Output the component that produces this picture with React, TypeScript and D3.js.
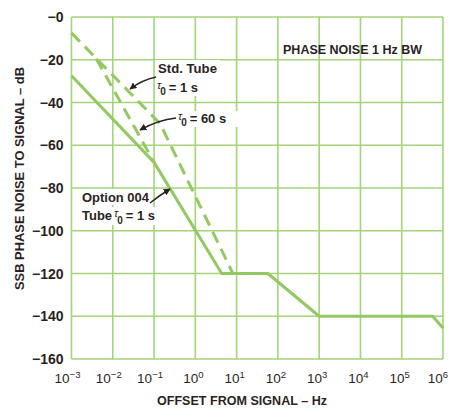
import React from "react";
import * as d3 from "d3";

// ---- data ----
const xTickExps = [-3, -2, -1, 0, 1, 2, 3, 4, 5, 6];
const yTicks = [0, -20, -40, -60, -80, -100, -120, -140, -160];

// Option 004 tube (solid), continues as common floor
const solidFreq = [1e-3, 1e-1, 10 ** 0.64, 57, 1e3, 10 ** 5.75, 1e6];
const solidDb = [-27.5, -68, -120, -120, -140, -140, -145.5];

// Std. Tube tau0 = 1 s (dashed)
const stdFreq = [1e-3, 10 ** -0.85, 10 ** 0.91];
const stdDb = [-7.5, -50, -120];

// tau0 = 60 s (dashed)
const t60Freq = [10 ** -2.4, 1e-1];
const t60Db = [-19.5, -68];

const W = 449;
const H = 409;
const M = { left: 71.5, right: 443, top: 17, bottom: 359 };

const GRID = "#a3d477";
const CURVE = "#93c862";
const TEXT = "#2b1f24";
const FONT = "'Liberation Sans', Arial, sans-serif";

function Tau({ x, y, rest, restLen }: { x: number; y: number; rest: string; restLen?: number }) {
  return (
    <text x={x} y={y} fill={TEXT}>
      <tspan fontSize={11} fontStyle="italic" dy={-3}>τ</tspan>
      <tspan fontSize={10} fontWeight="bold" dy={6.5} dx={-1}>0</tspan>
      <tspan fontSize={13} fontWeight="bold" dy={-3.5} dx={3}>{rest}</tspan>
    </text>
  );
}

export default function App() {
  const x = d3.scaleLog().domain([1e-3, 1e6]).range([M.left, M.right]);
  const y = d3.scaleLinear().domain([-160, 0]).range([M.bottom, M.top]);
  const line = d3
    .line<[number, number]>()
    .x((d) => x(d[0]))
    .y((d) => y(d[1]));

  const solid = solidFreq.map((f, i) => [f, solidDb[i]] as [number, number]);
  const std = stdFreq.map((f, i) => [f, stdDb[i]] as [number, number]);
  const t60 = t60Freq.map((f, i) => [f, t60Db[i]] as [number, number]);

  const tx = (e: number) => x(10 ** e);

  return (
    <svg
      width={W}
      height={H}
      style={{ position: "absolute", left: 0, top: 0, background: "#fff" }}
      fontFamily={FONT}
    >
      <defs>
        <marker
          id="ah"
          viewBox="0 0 10 10"
          refX="9"
          refY="5"
          markerWidth="7"
          markerHeight="7"
          orient="auto"
          markerUnits="userSpaceOnUse"
        >
          <path d="M0,0 L10,5 L0,10 z" fill={TEXT} />
        </marker>
      </defs>

      {/* grid */}
      {xTickExps.map((e) => (
        <line
          key={"vx" + e}
          x1={tx(e)}
          x2={tx(e)}
          y1={M.top}
          y2={M.bottom}
          stroke={GRID}
          strokeWidth={1.6}
        />
      ))}
      {yTicks.map((v) => (
        <line
          key={"hy" + v}
          x1={M.left}
          x2={M.right}
          y1={y(v)}
          y2={y(v)}
          stroke={GRID}
          strokeWidth={1.6}
        />
      ))}

      {/* curves */}
      <path d={line(solid) || ""} fill="none" stroke={CURVE} strokeWidth={3} strokeLinejoin="round" />
      <path d={line(std) || ""} fill="none" stroke={CURVE} strokeWidth={3} strokeDasharray="12 7" />
      <path d={line(t60) || ""} fill="none" stroke={CURVE} strokeWidth={3} strokeDasharray="12 7" />

      {/* y tick labels */}
      {yTicks.map((v) => (
        <text
          key={"yl" + v}
          x={M.left - 8}
          y={y(v) + 5}
          textAnchor="end"
          fontSize={14}
          fontWeight="bold"
          fill={TEXT}
        >
          {"\u2212" + Math.abs(v)}
        </text>
      ))}

      {/* x tick labels */}
      {xTickExps.map((e) => (
        <text
          key={"xl" + e}
          x={e === 6 ? W - 1 : tx(e) - (e < 0 ? 4 : 2)}
          y={383}
          textAnchor={e === 6 ? "end" : "middle"}
          fontSize={13.5}
          fill={TEXT}
        >
          10
          <tspan fontSize={9.5} dy={-5}>
            {e < 0 ? "\u2212" + Math.abs(e) : String(e)}
          </tspan>
        </text>
      ))}

      {/* axis titles */}
      <text
        x={157}
        y={405}
        fontSize={13}
        fontWeight="bold"
        fill={TEXT}
        textLength={170}
        lengthAdjust="spacingAndGlyphs"
      >
        OFFSET FROM SIGNAL – Hz
      </text>
      <text
        transform="translate(24,290) rotate(-90)"
        fontSize={12.5}
        fontWeight="bold"
        fill={TEXT}
        textLength={223}
        lengthAdjust="spacingAndGlyphs"
      >
        SSB PHASE NOISE TO SIGNAL – dB
      </text>

      <text
        x={283}
        y={53.5}
        fontSize={12}
        fontWeight="bold"
        fill={TEXT}
        textLength={139}
        lengthAdjust="spacingAndGlyphs"
      >
        PHASE NOISE 1 Hz BW
      </text>

      {/* annotations */}
      <rect x={155} y={60} width={65} height={36} fill="#fff" />
      <text x={158} y={73} fontSize={13} fontWeight="bold" fill={TEXT} textLength={59} lengthAdjust="spacingAndGlyphs">
        Std. Tube
      </text>
      <Tau x={157} y={91.5} rest="= 1 s" />
      <path d="M156,77 Q142,80 130,89" fill="none" stroke={TEXT} strokeWidth={1.5} markerEnd="url(#ah)" />

      <rect x={177} y={111} width={62} height={16} fill="#fff" />
      <Tau x={178} y={122.5} rest="= 60 s" />
      <path d="M176,118 Q158,120 140,130" fill="none" stroke={TEXT} strokeWidth={1.5} markerEnd="url(#ah)" />

      <rect x={80} y={189} width={70} height={16} fill="#fff" />
      <rect x={80} y={207} width={90} height={18} fill="#fff" />
      <text x={82} y={201.5} fontSize={13} fontWeight="bold" fill={TEXT} textLength={67} lengthAdjust="spacingAndGlyphs">
        Option 004
      </text>
      <text x={82} y={220} fill={TEXT}>
        <tspan fontSize={13} fontWeight="bold">Tube</tspan>
        <tspan fontSize={11} fontStyle="italic" dy={-3} dx={2}>τ</tspan>
        <tspan fontSize={10} fontWeight="bold" dy={6.5} dx={-1}>0</tspan>
        <tspan fontSize={13} fontWeight="bold" dy={-3.5} dx={3}>= 1 s</tspan>
      </text>
      <path d="M150,203 Q160,195 170,189" fill="none" stroke={TEXT} strokeWidth={1.5} markerEnd="url(#ah)" />
    </svg>
  );
}
